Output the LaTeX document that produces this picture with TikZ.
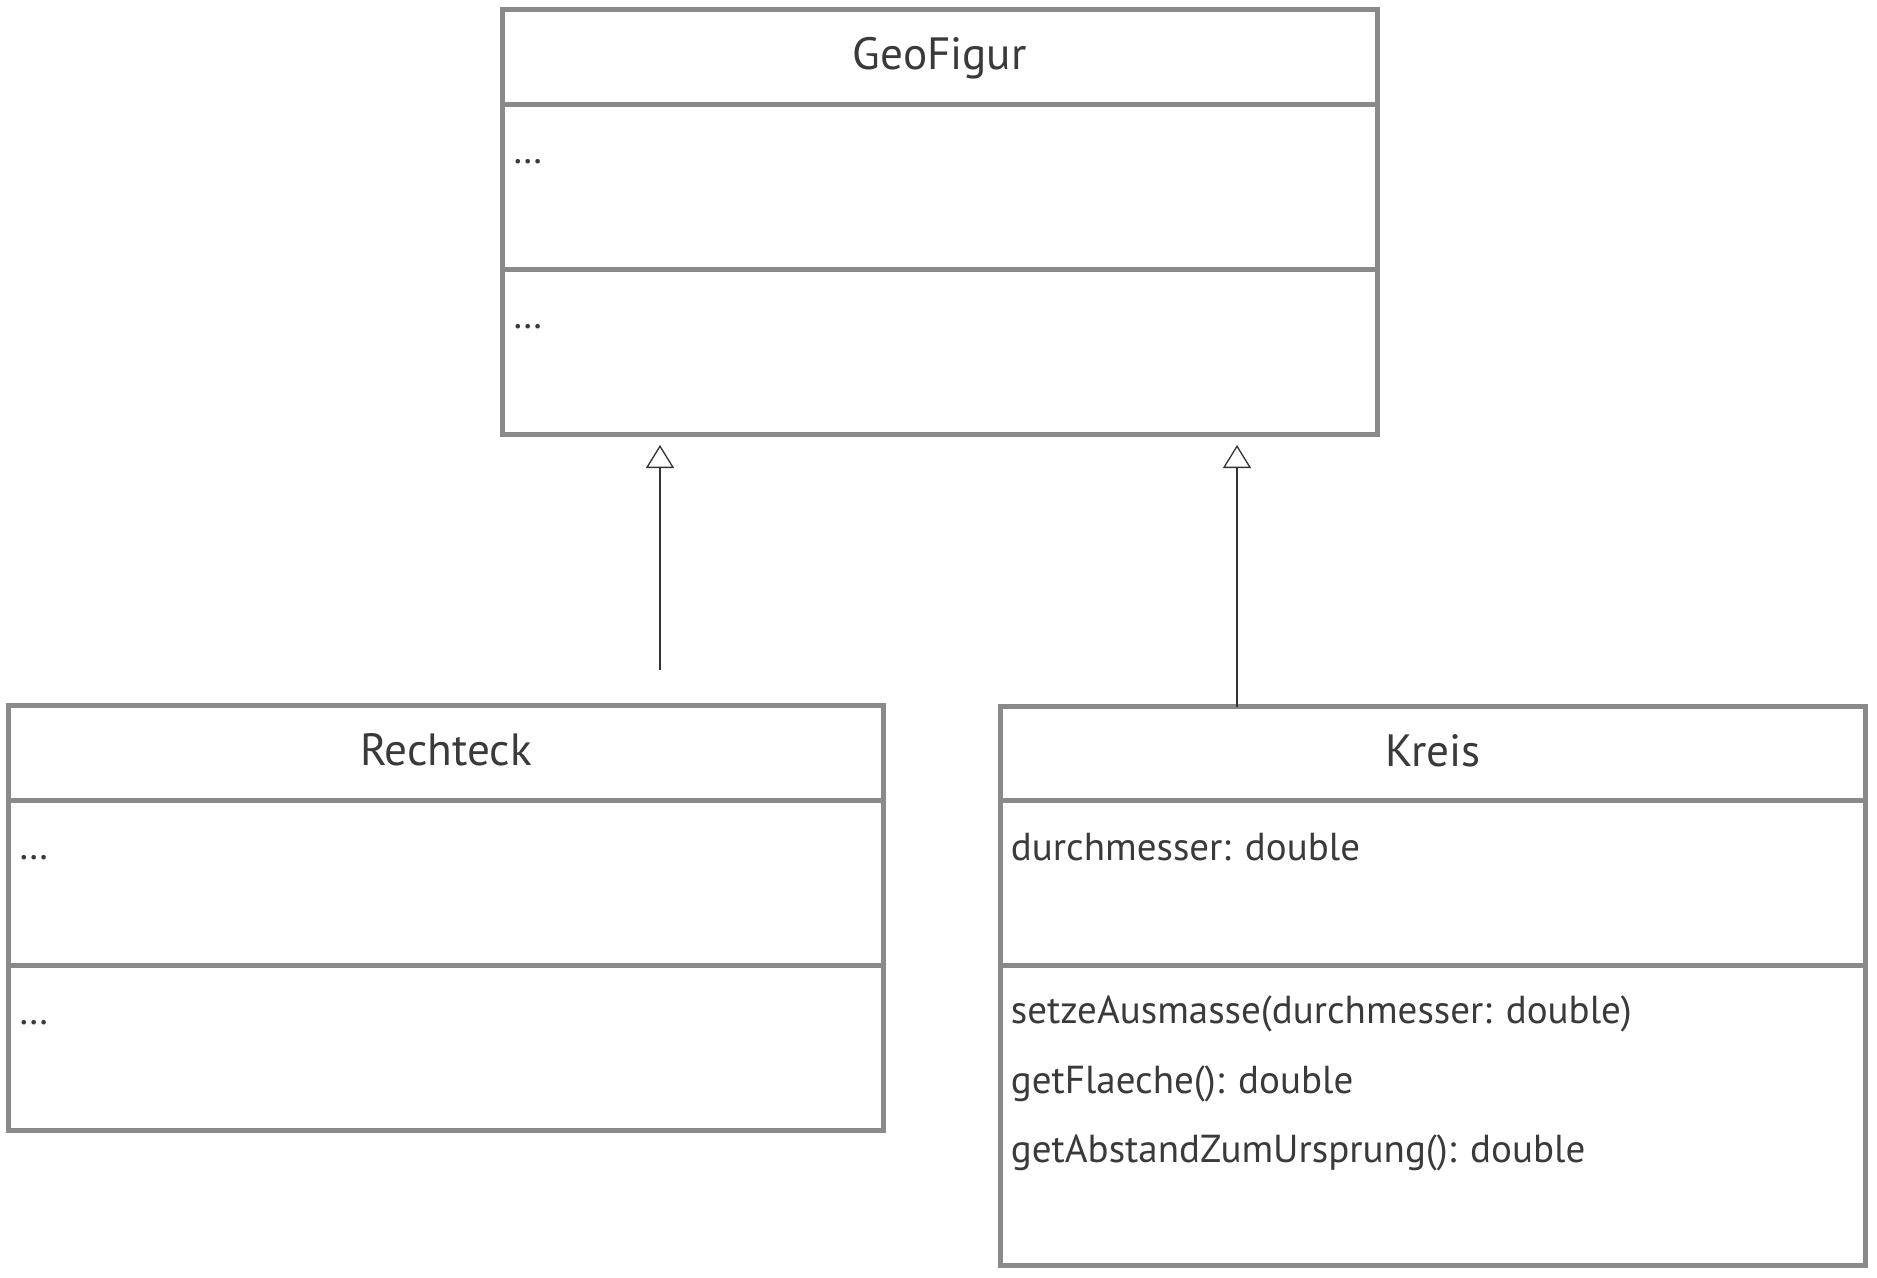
\documentclass[tikz,border=0pt]{standalone}
\usepackage{fontspec}
\setmainfont{PT Sans}
\usetikzlibrary{arrows.meta}
\definecolor{boxgray}{HTML}{8A8A8A}
\definecolor{txt}{HTML}{3A3A3A}
\definecolor{conn}{HTML}{333333}
\begin{document}
\begin{tikzpicture}[x=0.5pt,y=-0.5pt,
  comp/.style={draw=boxgray, line width=2.5pt, fill=white, rectangle, inner sep=0pt, outer sep=0pt, anchor=north west},
  title/.style={font=\fontsize{22.6}{27}\selectfont, text=txt, anchor=base, inner sep=0pt},
  item/.style={font=\fontsize{19.5}{23}\selectfont, text=txt, anchor=base west, inner sep=0pt},
  inherit/.style={draw=conn, line width=0.65pt, -{Triangle[open, width=14pt, length=11.5pt, fill=white]}}]
\useasboundingbox (0,0) rectangle (1877,1278);
\fill[white] (0,0) rectangle (1877,1278);
% GeoFigur
\node[comp, minimum width=437.25pt, minimum height=47.5pt] (geoH) at (502.5,9.5) {};
\node[comp, minimum width=437.25pt, minimum height=82.5pt] (geoA) at (502.5,104.5) {};
\node[comp, minimum width=437.25pt, minimum height=82.5pt] (geoM) at (502.5,269.5) {};
\node[title] (geoT) at (939.75,69.5) {GeoFigur};
\node[item] (geoAt) at (512.5,163.5) {…};
\node[item] (geoMt) at (512.5,328.5) {…};
% Rechteck
\node[comp, minimum width=437.5pt, minimum height=47.5pt] (reH) at (8.5,705.5) {};
\node[comp, minimum width=437.5pt, minimum height=82.5pt] (reA) at (8.5,800.5) {};
\node[comp, minimum width=437.5pt, minimum height=82.5pt] (reM) at (8.5,965.5) {};
\node[title] (reT) at (446,765.5) {Rechteck};
\node[item] (reAt) at (18.5,859.5) {…};
\node[item] (reMt) at (18.5,1024.5) {…};
% Kreis
\node[comp, minimum width=432.5pt, minimum height=47pt] (krH) at (1000.5,706.5) {};
\node[comp, minimum width=432.5pt, minimum height=82.5pt] (krA) at (1000.5,800.5) {};
\node[comp, minimum width=432.5pt, minimum height=150pt] (krM) at (1000.5,965.5) {};
\node[title] (krT) at (1433,766) {Kreis};
\node[item] (krA1) at (1010.5,860.5) {durchmesser: double};
\node[item] (krM1) at (1010.5,1023.5) {setzeAusmasse(durchmesser: double)};
\node[item] (krM2) at (1010.5,1093) {getFlaeche(): double};
\node[item] (krM3) at (1010.5,1162.5) {getAbstandZumUrsprung(): double};
% inheritance
\coordinate (tip1) at (660,445);
\coordinate (free1) at (660,670);
\coordinate (tip2) at (1237,445);
\draw[inherit] (free1) -- (tip1);
\draw[inherit] (krH.north -| tip2) -- (tip2);
\end{tikzpicture}
\end{document}
